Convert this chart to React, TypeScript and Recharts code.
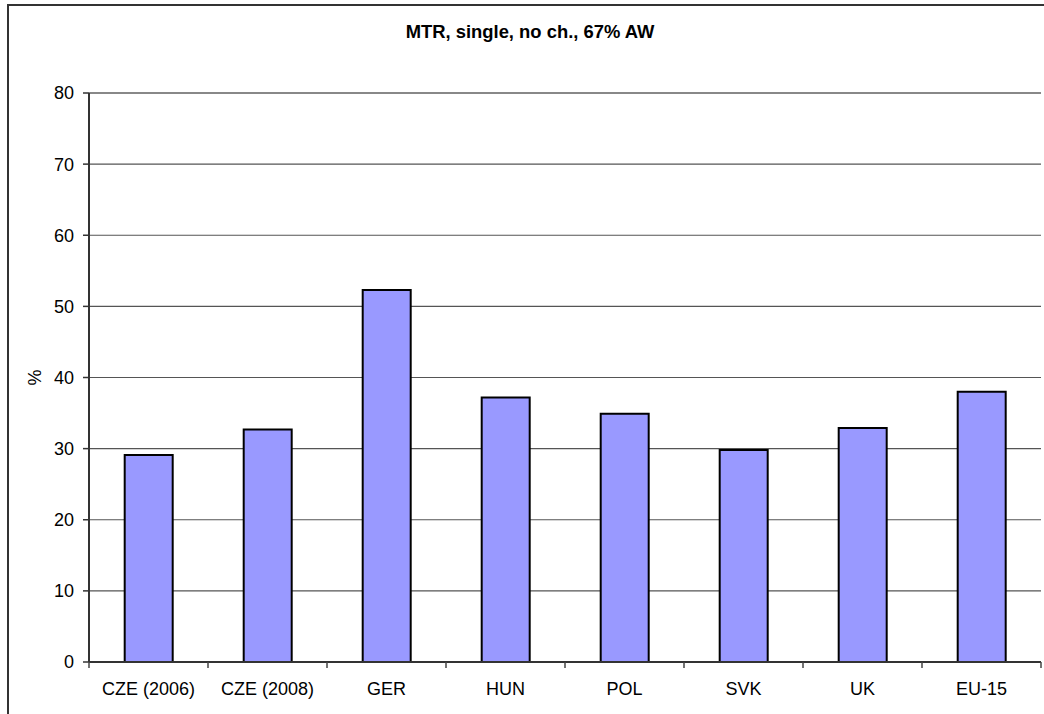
import { BarChart, Bar, XAxis, YAxis, CartesianGrid, ReferenceLine } from "recharts";

const categories = ["CZE (2006)", "CZE (2008)", "GER", "HUN", "POL", "SVK", "UK", "EU-15"];
const mtrValues = [29.1, 32.7, 52.3, 37.2, 34.9, 29.8, 32.9, 38.0];
const yTicks = [0, 10, 20, 30, 40, 50, 60, 70, 80];

const data = categories.map((name, i) => ({ name, mtr: mtrValues[i] }));

const font = "Arial, 'Liberation Sans', sans-serif";
const TICK_SIZE = 6;
const TICK_MARGIN = 14;

const PercentLabel = (props: any) => {
  const vb = props.viewBox || {};
  const x = vb.x + 35;
  const y = vb.y + vb.height / 2;
  return (
    <text
      x={x}
      y={y}
      transform={`rotate(-90 ${x} ${y})`}
      textAnchor="middle"
      dominantBaseline="central"
      fontSize={18}
      fontFamily={font}
      fill="#000"
    >
      %
    </text>
  );
};

// label at the category centre, tick marks on the category boundaries (Excel style)
const CategoryTick = (props: any) => {
  const { x, y, payload, index } = props;
  const half = payload.offset || 0;
  const y0 = y - TICK_SIZE - TICK_MARGIN;
  return (
    <g>
      <line x1={x - half} x2={x - half} y1={y0} y2={y0 + TICK_SIZE} stroke="#444" strokeWidth={1.5} />
      {index === categories.length - 1 && (
        <line x1={x + half} x2={x + half} y1={y0} y2={y0 + TICK_SIZE} stroke="#444" strokeWidth={1.5} />
      )}
      <text x={x} y={y} dy="0.71em" textAnchor="middle" fontSize={18} fontFamily={font} fill="#000">
        {payload.value}
      </text>
    </g>
  );
};

export default function App() {
  return (
    <div
      style={{
        position: "fixed",
        left: 0,
        top: 0,
        width: 1044,
        height: 714,
        overflow: "hidden",
        background: "#fff",
      }}
    >
      <div
        style={{
          position: "absolute",
          left: 7,
          top: 4,
          width: 1100,
          height: 800,
          border: "2px solid #333",
          boxSizing: "border-box",
        }}
      />
      <div
        style={{
          position: "absolute",
          left: 0,
          top: 21,
          width: 1060,
          textAlign: "center",
          fontFamily: font,
          fontWeight: "bold",
          fontSize: 18.4,
          color: "#000",
        }}
      >
        MTR, single, no ch., 67% AW
      </div>
      <div style={{ position: "absolute", left: 0, top: 0 }}>
        <BarChart
          width={1044}
          height={714}
          data={data}
          margin={{ top: 93, right: 3, left: 0, bottom: 0 }}
          barCategoryGap="30%"
        >
          <CartesianGrid
            xAxisId="cat"
            yAxisId="left"
            vertical={false}
            stroke="#555"
            strokeWidth={1.2}
          />
          <XAxis
            xAxisId="cat"
            dataKey="name"
            height={52}
            interval={0}
            tickLine={false}
            tickSize={TICK_SIZE}
            tickMargin={TICK_MARGIN}
            axisLine={{ stroke: "#333", strokeWidth: 2 }}
            tick={<CategoryTick />}
          />
          <YAxis
            yAxisId="left"
            width={89}
            domain={[0, 80]}
            ticks={yTicks}
            interval={0}
            tickSize={6}
            tickMargin={9}
            axisLine={{ stroke: "#333", strokeWidth: 2 }}
            tickLine={{ stroke: "#333", strokeWidth: 1.5 }}
            tick={{ fontSize: 18, fill: "#000", fontFamily: font }}
            label={<PercentLabel />}
          />
          <YAxis
            yAxisId="right"
            orientation="right"
            width={0}
            domain={[0, 80]}
            tick={false}
            tickLine={false}
            axisLine={{ stroke: "#888", strokeWidth: 2 }}
          />
          <ReferenceLine
            xAxisId="cat"
            yAxisId="left"
            y={80}
            stroke="#888"
            strokeWidth={2}
          />
          <Bar
            xAxisId="cat"
            yAxisId="left"
            dataKey="mtr"
            fill="#9999FF"
            stroke="#000"
            strokeWidth={2}
            isAnimationActive={false}
          />
        </BarChart>
      </div>
    </div>
  );
}
